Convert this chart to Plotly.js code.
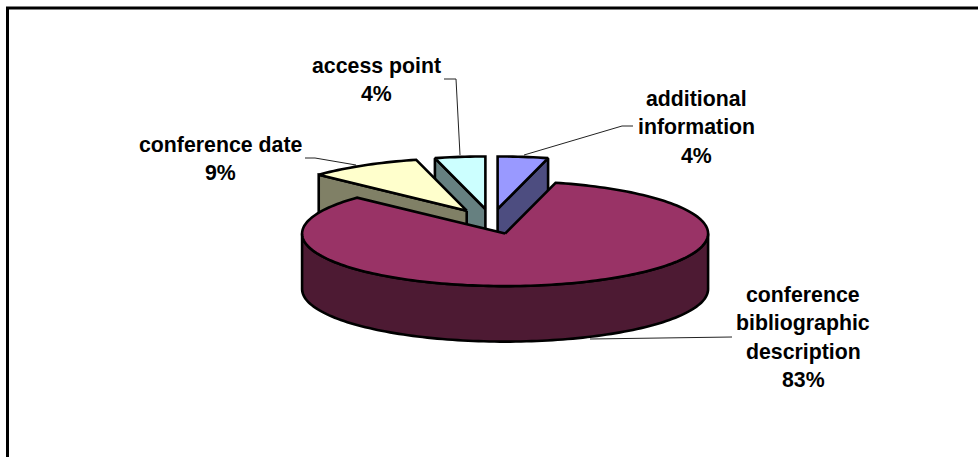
<!DOCTYPE html>
<html>
<head>
<meta charset="utf-8">
<script src="https://cdn.plot.ly/plotly-3.0.1.min.js"></script>
<style>html,body{margin:0;padding:0;background:#fff}#chart{width:978px;height:457px}</style>
</head>
<body>
<div id="chart"></div>
<script>
// Slices in clockwise order starting from twelve o'clock
const categories = ['additional information', 'conference bibliographic description', 'conference date', 'access point'];
const shares = [4, 83, 9, 4];
const topColors = ['#9999FF', '#993366', '#FFFFCC', '#CCFFFF'];
const wallColors = ['#4D4D80', '#4D1A33', '#808066', '#668080'];

// Label text broken into the lines it is set on, with the slice value appended
const labelLines = [
  ['additional', 'information'],
  ['conference', 'bibliographic', 'description'],
  ['conference date'],
  ['access point']
];
const labelCentres = [[696, 99], [803, 295], [220, 145], [376, 66]];
const leaders = [
  [[633, 126], [622, 126], [524, 155]],
  [[732, 337], [590, 339]],
  [[305, 158], [315, 158], [356, 165]],
  [[444, 79], [456, 79], [460, 155]]
];

// Projection of the tilted pie
const CX = 491.5, CY = 221.5, RX = 203, RY = 52.5, DEPTH = 55.5, EXPLODE = 0.24;
const LINE = 2.6;

const rad = d => d * Math.PI / 180;
const total = shares.reduce((a, b) => a + b, 0);

function rimPoint(c, deg, drop) {
  return [c[0] + RX * Math.sin(rad(deg)), c[1] - RY * Math.cos(rad(deg)) + (drop || 0)];
}
function arc(c, from, to, drop) {
  const n = Math.max(2, Math.ceil(Math.abs(to - from) / 1.5));
  const pts = [];
  for (let i = 0; i <= n; i++) pts.push(rimPoint(c, from + (to - from) * i / n, drop));
  return pts;
}
function poly(pts, color) {
  const closed = pts.concat([pts[0]]);
  return {
    type: 'scatter', mode: 'lines', hoverinfo: 'skip', showlegend: false,
    x: closed.map(p => p[0]), y: closed.map(p => p[1]),
    fill: 'toself', fillcolor: color,
    line: {color: '#000', width: LINE, simplify: false}
  };
}

// Turn each share into a wedge, offset along its own bisector
let running = 0;
const wedges = shares.map((v, i) => {
  const a = running / total * 360;
  running += v;
  const b = running / total * 360;
  const mid = (a + b) / 2;
  const c = [CX + EXPLODE * RX * Math.sin(rad(mid)), CY - EXPLODE * RY * Math.cos(rad(mid))];
  return {i, a, b, c};
});

function wedgeTraces(w) {
  const out = [];
  const {a, b, c} = w;
  const edge = deg => {
    const p = rimPoint(c, deg);
    return poly([c, p, [p[0], p[1] + DEPTH], [c[0], c[1] + DEPTH]], wallColors[w.i]);
  };
  // Cut faces turned toward the viewer
  if (Math.sin(rad(a)) < -1e-6) out.push(edge(a));
  if (Math.sin(rad(b)) > 1e-6) out.push(edge(b));
  // Outer wall on the near half of the rim
  const lo = Math.max(a, 90), hi = Math.min(b, 270);
  if (hi > lo) {
    out.push(poly(arc(c, lo, hi, 0).concat(arc(c, hi, lo, DEPTH)), wallColors[w.i]));
  }
  out.push(poly([c].concat(arc(c, a, b, 0)), topColors[w.i]));
  return out;
}

// Far wedges go down first so the nearer ones overlap them
const paintOrder = [3, 0, 2, 1];
const traces = [];
paintOrder.forEach(i => wedgeTraces(wedges[i]).forEach(t => traces.push(t)));

// Leader lines
leaders.forEach(pts => traces.unshift({
  type: 'scatter', mode: 'lines', hoverinfo: 'skip', showlegend: false,
  x: pts.map(p => p[0]), y: pts.map(p => p[1]),
  line: {color: '#222', width: 1}
}));

// Each label line is its own annotation to hold the wide line pitch
const PITCH = 28.4;
const annotations = [];
categories.forEach((name, i) => {
  labelLines[i].concat([shares[i] + '%']).forEach((text, k) => {
    annotations.push({
      xref: 'x', yref: 'y', x: labelCentres[i][0], y: labelCentres[i][1] + k * PITCH,
      text: '<b>' + text + '</b>', showarrow: false, xanchor: 'center', yanchor: 'middle',
      font: {family: '"Liberation Sans", Arial, sans-serif', size: 21.3, color: '#000'}
    });
  });
});

const layout = {
  width: 978, height: 457,
  margin: {l: 0, r: 0, t: 0, b: 0},
  paper_bgcolor: '#fff', plot_bgcolor: '#fff',
  showlegend: false,
  xaxis: {range: [0, 978], visible: false, fixedrange: true},
  yaxis: {range: [457, 0], visible: false, fixedrange: true},
  annotations,
  // Chart area border
  shapes: [
    {type: 'line', xref: 'x', yref: 'y', x0: 7.5, x1: 7.5, y0: 7, y1: 457, line: {color: '#000', width: 3}},
    {type: 'line', xref: 'x', yref: 'y', x0: 6, x1: 978, y0: 8, y1: 8, line: {color: '#000', width: 3}}
  ]
};

Plotly.newPlot('chart', traces, layout, {displayModeBar: false, staticPlot: true});
</script>
</body>
</html>
